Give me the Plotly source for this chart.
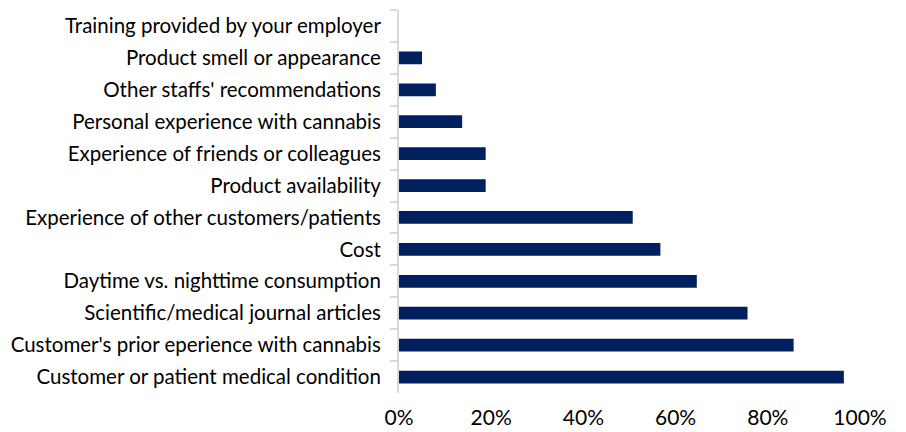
import plotly.graph_objects as go

categories = [
    "Training provided by your employer",
    "Product smell or appearance",
    "Other staffs' recommendations",
    "Personal experience with cannabis",
    "Experience of friends or colleagues",
    "Product availability",
    "Experience of other customers/patients",
    "Cost",
    "Daytime vs. nighttime consumption",
    "Scientific/medical journal articles",
    "Customer's prior eperience with cannabis",
    "Customer or patient medical condition",
]
values = [0.0, 0.05, 0.08, 0.137, 0.188, 0.188, 0.507, 0.567, 0.646, 0.756, 0.856, 0.965]
tick_vals = [0, 0.2, 0.4, 0.6, 0.8, 1.0]
tick_text = ["0%", "20%", "40%", "60%", "80%", "100%"]

fig = go.Figure(
    go.Bar(
        x=values,
        y=categories,
        orientation="h",
        marker=dict(color="#002060", line=dict(width=0)),
        hoverinfo="x+y",
    )
)

fig.update_layout(
    width=906,
    height=432,
    margin=dict(l=399, r=46, t=10, b=39),
    paper_bgcolor="white",
    plot_bgcolor="white",
    bargap=0.6,
    showlegend=False,
    font=dict(family="Lato, 'Open Sans', sans-serif", color="#000000"),
)

fig.update_xaxes(
    range=[0, 1.0],
    tickvals=tick_vals,
    ticktext=tick_text,
    showgrid=False,
    zeroline=False,
    showline=False,
    ticks="",
    automargin=False,
    tickfont=dict(size=21, family="Lato, 'Open Sans', sans-serif", color="#000000"),
    ticklabelstandoff=10,
)

fig.update_yaxes(
    autorange="reversed",
    type="category",
    showgrid=False,
    zeroline=False,
    showline=True,
    linecolor="#d9d9d9",
    linewidth=2,
    ticks="outside",
    tickson="boundaries",
    ticklen=7,
    tickcolor="#d9d9d9",
    tickwidth=2,
    automargin=False,
    tickfont=dict(size=20.5, family="Lato, 'Open Sans', sans-serif", color="#000000"),
    ticklabelstandoff=12,
)

fig.write_html("out.html")
